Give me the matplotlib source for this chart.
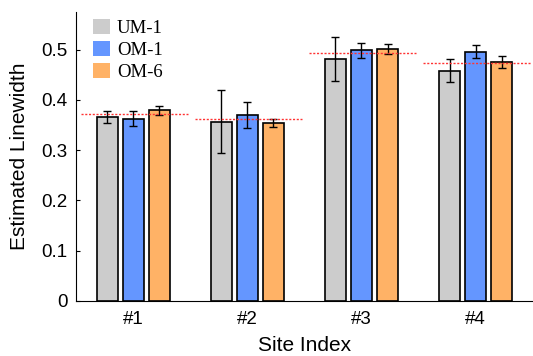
import matplotlib
matplotlib.use("Agg")
import matplotlib.pyplot as plt
import numpy as np

sites = ["#1", "#2", "#3", "#4"]
series = ["UM-1", "OM-1", "OM-6"]
um1 = [0.366, 0.357, 0.481, 0.458]
om1 = [0.363, 0.370, 0.499, 0.496]
om6 = [0.379, 0.354, 0.501, 0.475]
um1_err = [0.012, 0.062, 0.044, 0.023]
om1_err = [0.014, 0.026, 0.015, 0.013]
om6_err = [0.009, 0.008, 0.010, 0.012]
ref_level = [0.371, 0.363, 0.493, 0.473]

colors = ["#cccccc", "#6496ff", "#ffb266"]

fig = plt.figure(figsize=(5.33, 3.56), dpi=100)
ax = fig.add_axes([0.1426, 0.1545, 0.857, 0.812])

x = np.arange(1, len(sites) + 1)
width = 0.185
offsets = [-0.228, 0.0, 0.228]
vals = [um1, om1, om6]
errs = [um1_err, om1_err, om6_err]
for i in range(3):
    ax.bar(x + offsets[i], vals[i], width, color=colors[i], edgecolor="black",
           linewidth=1.2, label=series[i], zorder=2)
    ax.errorbar(x + offsets[i], vals[i], yerr=errs[i], fmt="none", ecolor="black",
                elinewidth=1.0, capsize=3, capthick=1.0, zorder=3)

# dotted reference level per site
for xi, r in zip(x, ref_level):
    ax.hlines(r, xi - 0.46, xi + 0.48, colors="#ff3333", linestyles=(0, (1.5, 1.2)),
              linewidth=1.0, zorder=4)

ax.set_xlim(0.5, 4.5)
ax.set_ylim(0, 0.575)
ax.set_xticks(x)
ax.set_xticklabels(sites)
ax.set_yticks([0, 0.1, 0.2, 0.3, 0.4, 0.5])
ax.set_yticklabels(["0", "0.1", "0.2", "0.3", "0.4", "0.5"])
ax.tick_params(axis="x", length=0, labelsize=13.5, pad=7)
ax.tick_params(axis="y", direction="in", length=3, labelsize=13.5, pad=6)
for lab in ax.get_xticklabels() + ax.get_yticklabels():
    lab.set_fontfamily("Liberation Sans")
ax.spines["top"].set_visible(False)
ax.spines["right"].set_visible(False)
ax.set_xlabel("Site Index", fontsize=15, fontfamily="Liberation Sans", labelpad=6)
ax.set_ylabel("Estimated Linewidth", fontsize=15, fontfamily="Liberation Sans", labelpad=9)

leg = ax.legend(loc="upper left", frameon=False, prop={"family": "Liberation Serif", "size": 13.5},
                handlelength=0.9, handleheight=0.85, handletextpad=0.4, labelspacing=0.2,
                borderaxespad=0.0, bbox_to_anchor=(0.02, 1.0))
for h in leg.legend_handles:
    h.set_edgecolor("none")

fig.savefig("out.png", dpi=100)
